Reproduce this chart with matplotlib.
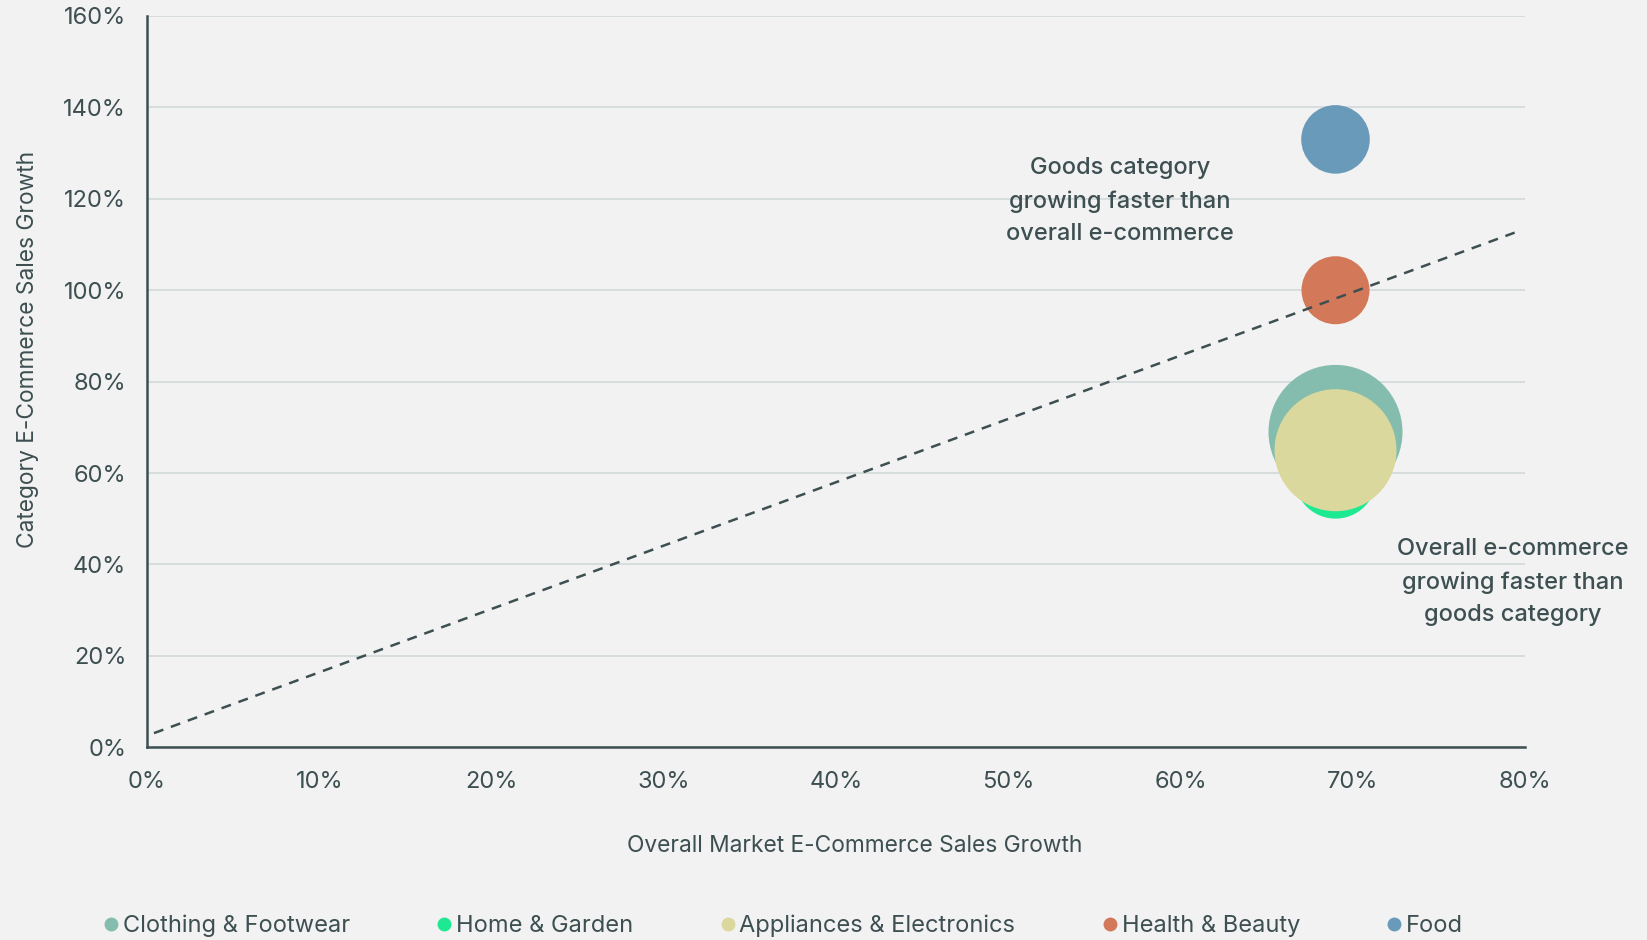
import matplotlib
matplotlib.use("Agg")
import matplotlib.pyplot as plt
from matplotlib.lines import Line2D
from matplotlib.ticker import FuncFormatter

# ---- data ----
categories = ["Clothing & Footwear", "Home & Garden", "Appliances & Electronics", "Health & Beauty", "Food"]
overall_growth = [69, 69, 69, 69, 69]          # % overall market e-commerce growth
category_growth = [69, 59, 65, 100, 133]        # % category e-commerce growth
bubble_size = [4489, 1681, 3721, 1156, 1176]    # relative bubble size
colors = ["#84bcae", "#1de993", "#dad89d", "#d3795a", "#6a9aba"]
draw_order = [1, 0, 2, 3, 4]

trend_x = [0.4, 79.4]
trend_y = [3.1, 112.6]

x_ticks = [0, 10, 20, 30, 40, 50, 60, 70, 80]
y_ticks = [0, 20, 40, 60, 80, 100, 120, 140, 160]

ann_top = "Goods category\ngrowing faster than\noverall e-commerce"
ann_bottom = "Overall e-commerce\ngrowing faster than\ngoods category"

# ---- style ----
BG = "#f2f2f2"
TXT = "#3d4f51"
GRID = "#d2d8d8"
plt.rcParams['font.family'] = ['Inter', 'DejaVu Sans']

fig = plt.figure(figsize=(16.47, 9.40), dpi=100, facecolor=BG)
ax = fig.add_axes([0.0893, 0.205, 0.8366, 0.778])
ax.set_facecolor(BG)

ax.set_xlim(0, 80)
ax.set_ylim(0, 160)
ax.set_xticks(x_ticks)
ax.set_yticks(y_ticks)
fmt = FuncFormatter(lambda v, p: f"{int(v)}%")
ax.xaxis.set_major_formatter(fmt)
ax.yaxis.set_major_formatter(fmt)
ax.tick_params(axis='both', length=0, labelsize=17, colors=TXT)
ax.tick_params(axis='x', pad=17)
ax.tick_params(axis='y', pad=15)

ax.grid(axis='y', color=GRID, linewidth=1.2)
ax.grid(axis='x', visible=False)
ax.set_axisbelow(True)
for s in ["top", "right"]:
    ax.spines[s].set_visible(False)
for s in ["left", "bottom"]:
    ax.spines[s].set_color(TXT)
    ax.spines[s].set_linewidth(1.8)

# size scaling: bubble_size ~ radius_px^2 ; s = (2*r*0.72)^2
for i in draw_order:
    s = 4 * bubble_size[i] * 0.72 ** 2
    ax.scatter(overall_growth[i], category_growth[i], s=s, color=colors[i],
               edgecolors='none', zorder=3 + draw_order.index(i), clip_on=False)

ax.plot(trend_x, trend_y, linestyle=(0, (4, 3.2)), color=TXT, linewidth=1.8, zorder=10)

ax.text(56.5, 119.5, ann_top, ha='center', va='center', fontsize=17, color=TXT,
        fontweight='medium', linespacing=1.62, zorder=11)
ax.text(79.3, 36.1, ann_bottom, ha='center', va='center', fontsize=17, color=TXT,
        fontweight='medium', linespacing=1.62, zorder=11, clip_on=False)

fig.text(0.519, 0.1, "Overall Market E-Commerce Sales Growth", ha='center', va='center',
         fontsize=16.4, color=TXT)
fig.text(0.017, 0.628, "Category E-Commerce Sales Growth", ha='center', va='center',
         rotation=90, fontsize=16.4, color=TXT)

handles = [Line2D([0], [0], marker='o', linestyle='none', markersize=10,
                  markerfacecolor=c, markeredgecolor='none') for c in colors]
leg = fig.legend(handles, categories, loc='center left', bbox_to_anchor=(0.048, 0.015),
                 ncol=5, frameon=False, fontsize=17, handletextpad=0.05,
                 columnspacing=3.55, handlelength=0.9, labelcolor=TXT)

fig.savefig("out.png", dpi=100, facecolor=BG)
